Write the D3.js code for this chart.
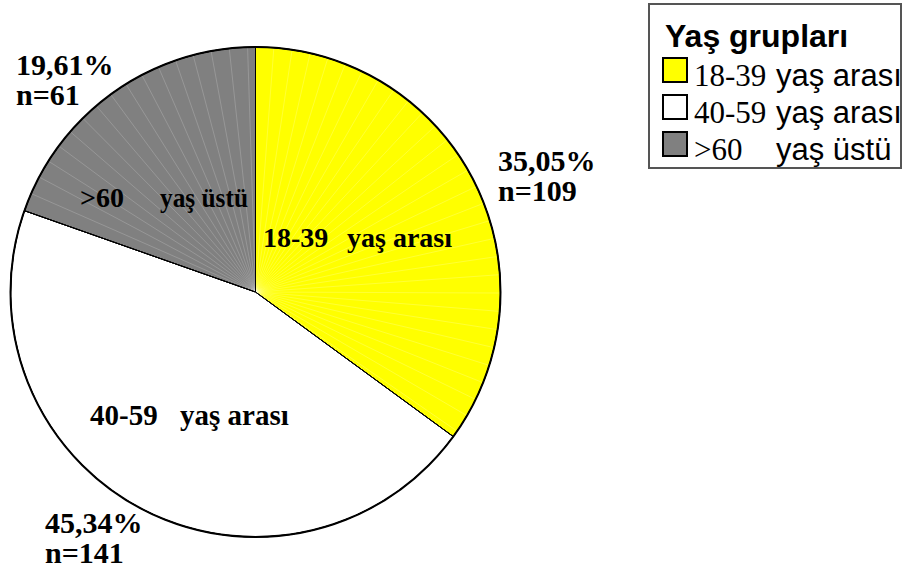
<!DOCTYPE html>
<html><head><meta charset="utf-8">
<script src="https://cdn.jsdelivr.net/npm/d3@7/dist/d3.min.js"></script>
<style>
html,body{margin:0;padding:0;background:#fff;overflow:hidden}
svg{display:block}
</style></head>
<body>
<svg id="chart" width="903" height="569"></svg>
<script>
// ---- data ----
const categories = ["18-39", "40-59", ">60"];
const categorySuffix = ["yaş arası", "yaş arası", "yaş üstü"];
const counts = [109, 141, 61];
const percentLabels = ["35,05%", "45,34%", "19,61%"];
const colors = ["#FFFF00", "#FFFFFF", "#808080"];
const legendTitle = "Yaş grupları";

const svg = d3.select("#chart");
const cx = 255.5, cy = 292, r = 245;
const g = svg.append("g").attr("transform", `translate(${cx},${cy})`);

const pie = d3.pie().sort(null).value(d => d)(counts);
const arc = d3.arc().innerRadius(0).outerRadius(r);

g.selectAll("path.slice").data(pie).enter().append("path")
  .attr("class", "slice")
  .attr("d", arc)
  .attr("fill", (d, i) => colors[i])
  .attr("stroke", "#000").attr("stroke-width", 1);

// faint rendering seams inside coloured slices
pie.forEach((d, i) => {
  if (i === 1) return;
  const step = 0.075;
  const angles = d3.range(d.startAngle + step, d.endAngle - 0.01, step);
  g.selectAll(null).data(angles).enter().append("line")
    .attr("x1", 0).attr("y1", 0)
    .attr("x2", a => r * Math.sin(a)).attr("y2", a => -r * Math.cos(a))
    .attr("stroke", "#fff").attr("stroke-opacity", i === 0 ? 0.35 : 0.3).attr("stroke-width", 0.6);
});
g.selectAll("path.border").data(pie).enter().append("path")
  .attr("d", arc).attr("fill", "none").attr("stroke", "#000").attr("stroke-width", 1);
g.append("circle").attr("r", r).attr("fill", "none").attr("stroke", "#000").attr("stroke-width", 2);

// ---- in-slice labels ----
const serif = "'Times New Roman', 'Liberation Serif', serif";
const inLabelPos = [
  {x1: 263, x2: 347, y: 247, fs: 28, w2: null},
  {x1: 90, x2: 180, y: 425, fs: 29, w2: null},
  {x1: 80, x2: 160, y: 207, fs: 28, w2: 88}
];
inLabelPos.forEach((p, i) => {
  svg.append("text").attr("x", p.x1).attr("y", p.y).attr("font-family", serif)
    .attr("font-weight", "bold").attr("font-size", p.fs).text(categories[i]);
  const t = svg.append("text").attr("x", p.x2).attr("y", p.y).attr("font-family", serif)
    .attr("font-weight", "bold").attr("font-size", p.fs).text(categorySuffix[i]);
  if (p.w2) t.attr("textLength", p.w2).attr("lengthAdjust", "spacingAndGlyphs");
});

// ---- outer percent labels ----
const outPos = [
  {x: 498, y: 171},
  {x: 45, y: 533},
  {x: 16, y: 75}
];
outPos.forEach((p, i) => {
  const t = svg.append("text").attr("font-family", serif).attr("font-weight", "bold")
    .attr("font-size", 30);
  t.append("tspan").attr("x", p.x).attr("y", p.y).text(percentLabels[i]);
  t.append("tspan").attr("x", p.x).attr("y", p.y + 30).text("n=" + counts[i]);
});

// ---- legend ----
const sans = "Arial, 'Liberation Sans', sans-serif";
const lg = svg.append("g");
lg.append("rect").attr("x", 649).attr("y", 4).attr("width", 252).attr("height", 164)
  .attr("fill", "#fff").attr("stroke", "#555").attr("stroke-width", 2);
lg.append("text").attr("x", 665).attr("y", 47).attr("font-family", sans)
  .attr("font-weight", "bold").attr("font-size", 32).text(legendTitle);
const rowY = [58, 95, 132];
categories.forEach((c, i) => {
  lg.append("rect").attr("x", 663).attr("y", rowY[i]).attr("width", 24).attr("height", 24)
    .attr("fill", colors[i]).attr("stroke", "#000").attr("stroke-width", 2);
  lg.append("text").attr("x", 694).attr("y", rowY[i] + 28).attr("font-family", serif)
    .attr("font-size", 31).text(c);
  lg.append("text").attr("x", 776).attr("y", rowY[i] + 28).attr("font-family", sans)
    .attr("font-size", 31).text(categorySuffix[i]);
});
</script>
</body></html>
